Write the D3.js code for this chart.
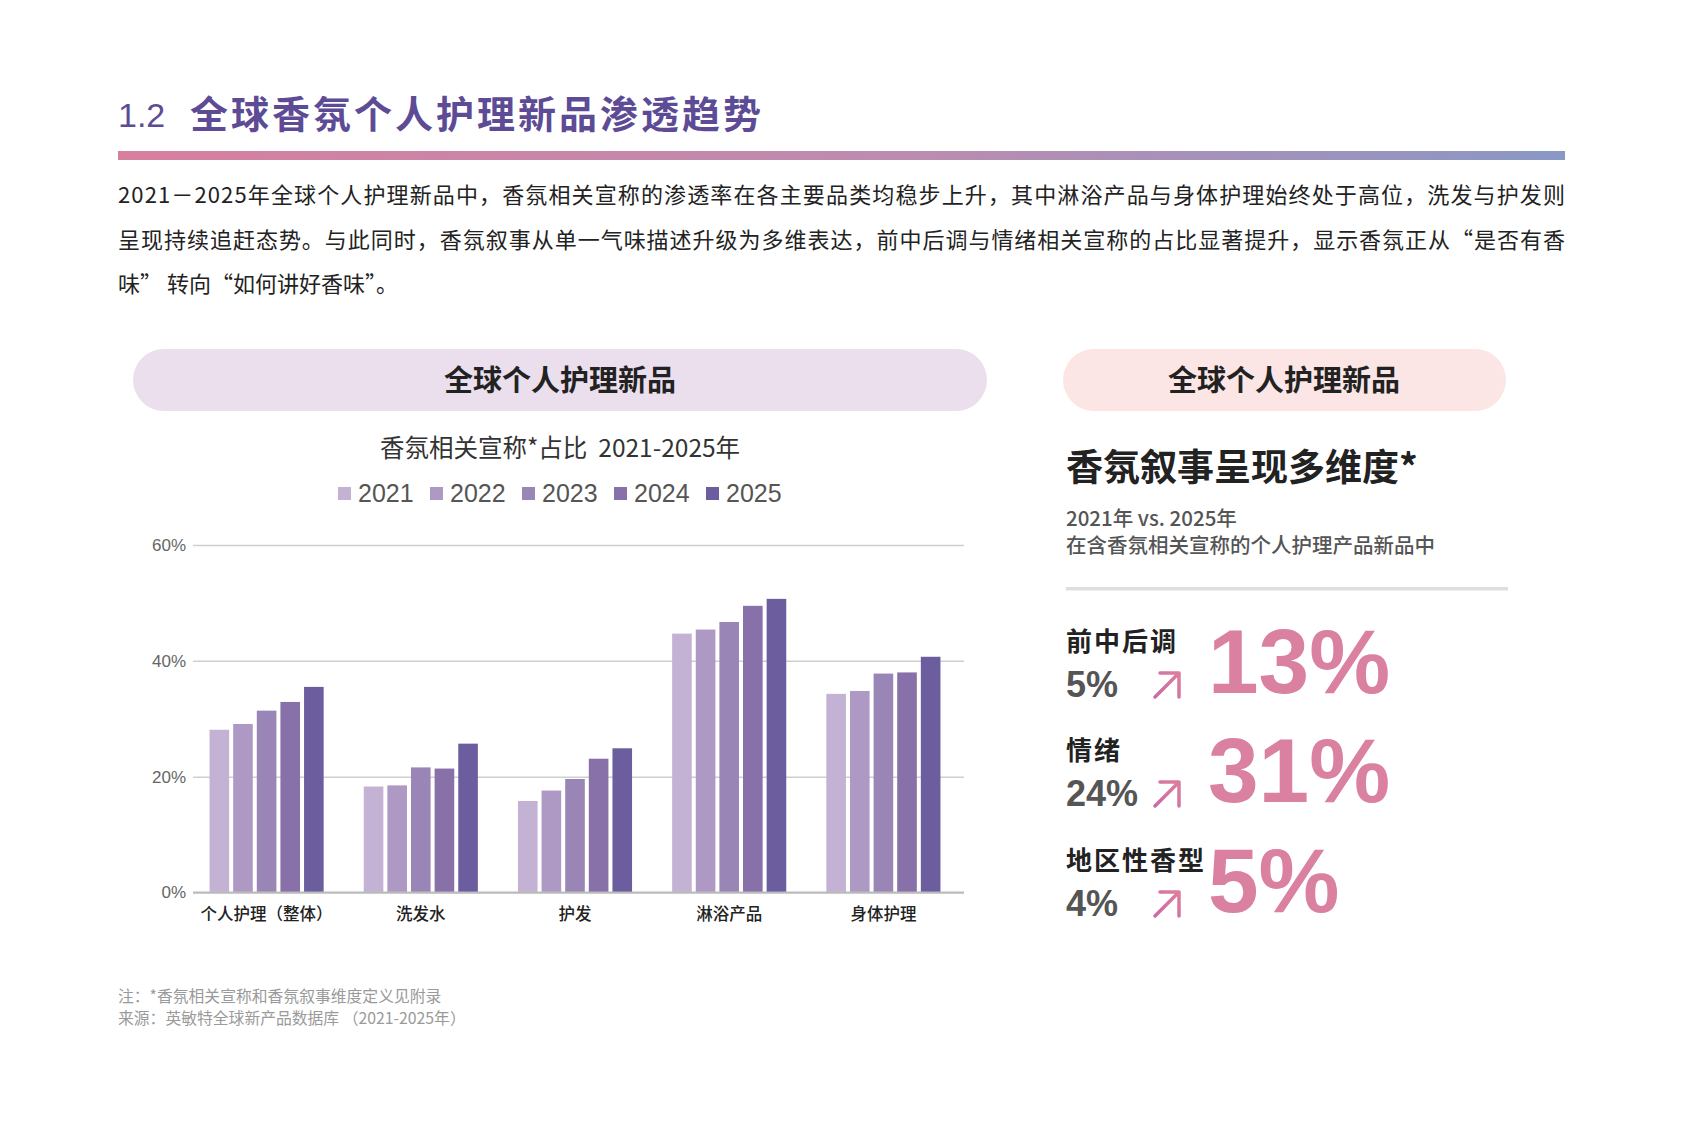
<!DOCTYPE html>
<html>
<head>
<meta charset="utf-8">
<script src="https://cdn.jsdelivr.net/npm/d3@7"></script>
<style>
  body { margin: 0; background: #fff; }
  svg text { font-family: "Noto Sans CJK SC", "Noto Sans", sans-serif; }
  .num { font-family: "Liberation Sans", Arial, sans-serif !important; }
</style>
</head>
<body>
<svg id="page" width="1684" height="1123"></svg>
<script>
// ---- data ----
var categories = ["个人护理（整体）", "洗发水", "护发", "淋浴产品", "身体护理"];
var years = ["2021", "2022", "2023", "2024", "2025"];
var yearColors = ["#c4b2d4", "#ae99c4", "#9a86b6", "#8771a8", "#6c5d9e"];
// share (%) per category, one array per year
var v2021 = [28.1, 18.3, 15.8, 44.7, 34.3];
var v2022 = [29.1, 18.5, 17.6, 45.4, 34.8];
var v2023 = [31.4, 21.6, 19.6, 46.7, 37.8];
var v2024 = [32.9, 21.4, 23.1, 49.5, 38.0];
var v2025 = [35.5, 25.7, 24.9, 50.7, 40.7];
var yTicks = [0, 20, 40, 60];

var dimLabels = ["前中后调", "情绪", "地区性香型"];
var dim2021 = ["5%", "24%", "4%"];
var dim2025 = ["13%", "31%", "5%"];

var paragraph = [
  "2021－2025年全球个人护理新品中，香氛相关宣称的渗透率在各主要品类均稳步上升，其中淋浴产品与身体护理始终处于高位，洗发与护发则",
  "呈现持续追赶态势。与此同时，香氛叙事从单一气味描述升级为多维表达，前中后调与情绪相关宣称的占比显著提升，显示香氛正从“是否有香",
  "味” 转向“如何讲好香味”。"
];
var notes = ["注：*香氛相关宣称和香氛叙事维度定义见附录", "来源：英敏特全球新产品数据库 （2021-2025年）"];

var series = [v2021, v2022, v2023, v2024, v2025];

var svg = d3.select("#page");
var defs = svg.append("defs");

// ---- header ----
svg.append("text").attr("x", 118).attr("y", 127)
    .attr("font-size", 34).attr("fill", "#5d4c95").attr("font-weight", 300)
    .attr("class", "num")
    .text("1.2");
svg.append("text").attr("x", 190).attr("y", 128)
    .attr("font-size", 38).attr("fill", "#5d4c95").attr("font-weight", 700)
    .attr("letter-spacing", 3)
    .text("全球香氛个人护理新品渗透趋势");

var grad = defs.append("linearGradient").attr("id", "hbar");
grad.append("stop").attr("offset", "0%").attr("stop-color", "#d77f9f");
grad.append("stop").attr("offset", "55%").attr("stop-color", "#bb8cb0");
grad.append("stop").attr("offset", "100%").attr("stop-color", "#8a98c5");
svg.append("rect").attr("x", 118).attr("y", 151).attr("width", 1447).attr("height", 9)
    .attr("fill", "url(#hbar)");

svg.selectAll(".para").data(paragraph).enter().append("text")
    .attr("class", "para")
    .attr("x", 118)
    .attr("y", function (d, i) { return 203 + i * 44.5; })
    .attr("font-size", 22)
    .attr("fill", "#222")
    .attr("textLength", function (d, i) { return i < 2 ? 1447 : null; })
    .attr("lengthAdjust", "spacing")
    .text(function (d) { return d; });

// ---- left panel ----
svg.append("rect").attr("x", 133).attr("y", 349).attr("width", 854).attr("height", 62)
    .attr("rx", 31).attr("fill", "#ebdfed");
svg.append("text").attr("x", 560).attr("y", 391).attr("text-anchor", "middle")
    .attr("font-size", 29).attr("font-weight", 700).attr("fill", "#222")
    .text("全球个人护理新品");

svg.append("text").attr("x", 560).attr("y", 457).attr("text-anchor", "middle")
    .attr("font-size", 24.5).attr("fill", "#333")
    .style("white-space", "pre")
    .text("香氛相关宣称*占比  2021-2025年");

var legend = svg.append("g").selectAll("g").data(years).enter().append("g")
    .attr("transform", function (d, i) { return "translate(" + (338 + i * 92) + ",0)"; });
legend.append("rect").attr("x", 0).attr("y", 487).attr("width", 13).attr("height", 13)
    .attr("fill", function (d, i) { return yearColors[i]; });
legend.append("text").attr("class", "num").attr("x", 20).attr("y", 502)
    .attr("font-size", 25).attr("fill", "#555")
    .text(function (d) { return d; });

// scales
var x0 = d3.scaleBand().domain(categories).range([189.5, 960.5]).paddingInner(0.26).paddingOuter(0.13);
var x1 = d3.scaleBand().domain(years).range([0, x0.bandwidth()]).paddingInner(0.17);
var y = d3.scaleLinear().domain([0, 60]).range([892.5, 545]);

// gridlines
var grid = svg.append("g").attr("class", "grid")
    .call(d3.axisLeft(y).tickValues(yTicks).tickSize(-(964 - 193)).tickFormat(""))
    .attr("transform", "translate(193,0)");
grid.select(".domain").remove();
grid.selectAll("line").attr("stroke", "#cfcfcf").attr("stroke-width", 1.5);

// y labels
var yAxis = svg.append("g").attr("transform", "translate(186,0)")
    .call(d3.axisLeft(y).tickValues(yTicks).tickSize(0).tickPadding(0)
        .tickFormat(function (d) { return d + "%"; }));
yAxis.select(".domain").remove();
yAxis.selectAll("text").attr("class", "num").attr("font-size", 17).attr("fill", "#666");

// bars
var groups = svg.append("g").selectAll("g").data(categories).enter().append("g")
    .attr("transform", function (d) { return "translate(" + x0(d) + ",0)"; });
groups.selectAll("rect")
    .data(function (d, ci) { return years.map(function (yr, yi) { return { yr: yr, yi: yi, v: series[yi][ci] }; }); })
    .enter().append("rect")
    .attr("x", function (d) { return x1(d.yr); })
    .attr("y", function (d) { return y(d.v); })
    .attr("width", x1.bandwidth())
    .attr("height", function (d) { return y(0) - y(d.v); })
    .attr("fill", function (d) { return yearColors[d.yi]; });

// baseline + category labels
var xAxis = svg.append("g").attr("transform", "translate(0,892.5)")
    .call(d3.axisBottom(x0).tickSize(0).tickPadding(16));
xAxis.select(".domain").attr("d", "M193,0H964").attr("stroke", "#bbb").attr("stroke-width", 2);
xAxis.selectAll("text").attr("font-size", 16.5).attr("font-weight", 500).attr("fill", "#222")
    .attr("font-family", "Noto Sans CJK SC");

// ---- right panel ----
svg.append("rect").attr("x", 1063).attr("y", 349).attr("width", 443).attr("height", 62)
    .attr("rx", 31).attr("fill", "#fbe6e5");
svg.append("text").attr("x", 1284).attr("y", 391).attr("text-anchor", "middle")
    .attr("font-size", 29).attr("font-weight", 700).attr("fill", "#222")
    .text("全球个人护理新品");

svg.append("text").attr("x", 1066).attr("y", 481)
    .attr("font-size", 37).attr("font-weight", 700).attr("fill", "#222")
    .text("香氛叙事呈现多维度*");
svg.append("text").attr("x", 1066).attr("y", 526)
    .attr("font-size", 20.5).attr("font-weight", 500).attr("fill", "#555")
    .text("2021年 vs. 2025年");
svg.append("text").attr("x", 1066).attr("y", 553)
    .attr("font-size", 20.5).attr("font-weight", 500).attr("fill", "#555")
    .text("在含香氛相关宣称的个人护理产品新品中");
svg.append("rect").attr("x", 1066).attr("y", 587).attr("width", 442).attr("height", 3.5)
    .attr("fill", "#dedede");

var agrad = defs.append("linearGradient").attr("id", "arrowGrad")
    .attr("x1", "0%").attr("y1", "100%").attr("x2", "100%").attr("y2", "0%");
agrad.append("stop").attr("offset", "0%").attr("stop-color", "#c86aa8");
agrad.append("stop").attr("offset", "100%").attr("stop-color", "#dd7d9e");

var rowY = [0, 109, 219];
var rows = svg.append("g").selectAll("g").data(dimLabels).enter().append("g")
    .attr("transform", function (d, i) { return "translate(0," + rowY[i] + ")"; });
rows.append("text").attr("x", 1066).attr("y", 651)
    .attr("font-size", 26).attr("font-weight", 700).attr("fill", "#222")
    .attr("letter-spacing", 2)
    .text(function (d) { return d; });
rows.append("text").attr("class", "num").attr("x", 1066).attr("y", 697)
    .attr("font-size", 36).attr("font-weight", 700).attr("fill", "#555")
    .text(function (d, i) { return dim2021[i]; });
rows.append("path")
    .attr("d", "M1155,697 L1178,674 M1160,673 L1179,673 L1179,697")
    .attr("fill", "none").attr("stroke", "url(#arrowGrad)").attr("stroke-width", 3.5)
    .attr("stroke-linecap", "round").attr("stroke-linejoin", "round");
rows.append("text").attr("class", "num").attr("x", 1208).attr("y", 693)
    .attr("font-size", 91).attr("font-weight", 700).attr("fill", "#da80a0")
    .text(function (d, i) { return dim2025[i]; });

// ---- notes ----
svg.selectAll(".note").data(notes).enter().append("text")
    .attr("class", "note")
    .attr("x", 118).attr("y", function (d, i) { return 1002 + i * 21.5; })
    .attr("font-size", 15.8).attr("fill", "#9a9a9a")
    .text(function (d) { return d; });
</script>
</body>
</html>
